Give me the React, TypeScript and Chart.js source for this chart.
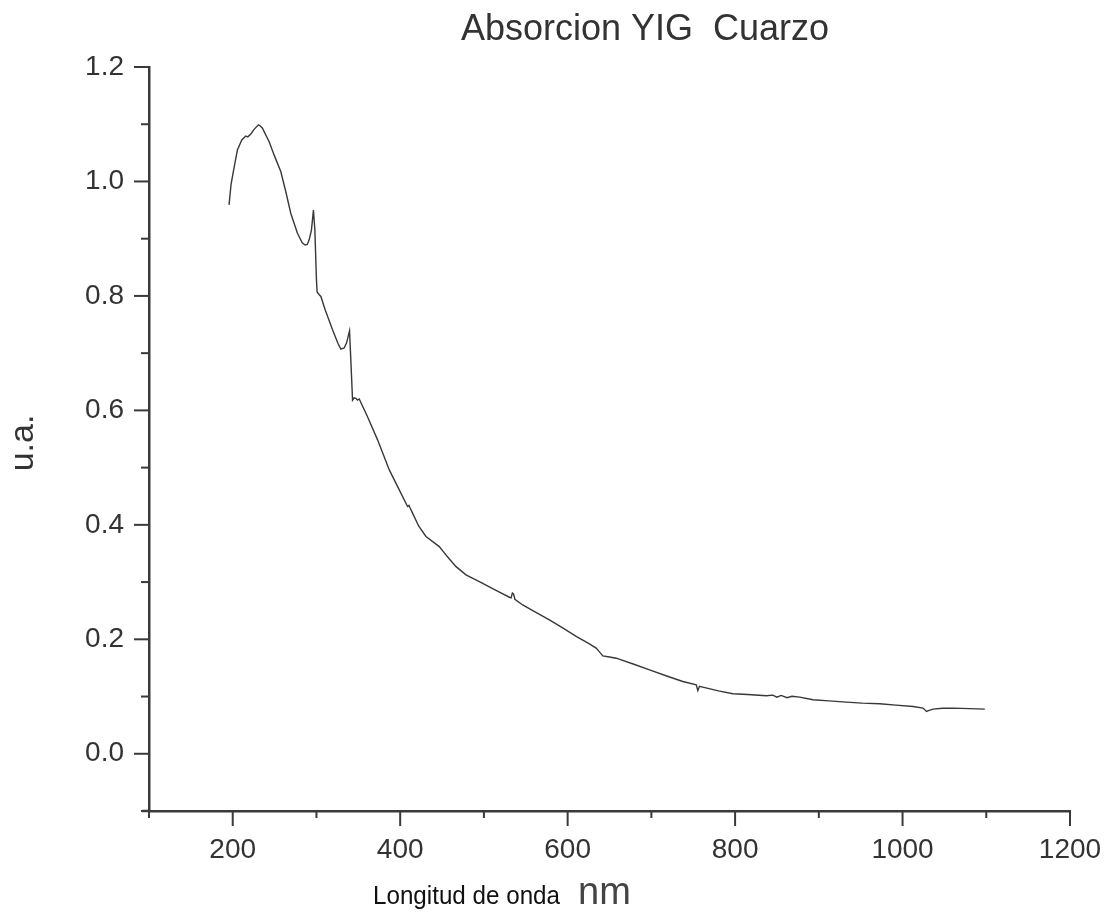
import React, { useEffect, useRef } from "react";
import { Chart, registerables } from "chart.js";

Chart.register(...registerables);

const TITLE = "Absorcion YIG  Cuarzo";
const Y_TITLE = "u.a.";
const X_TITLE_MAIN = "Longitud de onda";
const X_TITLE_UNIT = "nm";

const X_MIN = 100;
const X_MAX = 1200;
const Y_MIN = -0.1;
const Y_MAX = 1.2;

const wavelength: number[] = [
  195.6, 198, 201.6, 205.6, 210.8, 215.6, 218, 221.6, 225.5, 230.7, 233, 235.5,
  243.5, 249.5, 257.5, 263.4, 269.4, 277.3, 283, 286.5, 289, 291.3, 294, 296.4,
  298.1, 300.0, 300.8, 303.3, 305.3, 310.4, 319.2, 326, 329.2, 333.1, 336, 339.5,
  341.2, 343.1, 345, 347.1, 349, 351.1, 361.0, 373.0, 387.0, 398.9, 408.8, 410.5,
  411.7, 414.8, 422, 430.8, 446.7, 456, 466.7, 478.6, 494.5, 518.5, 530.5, 532.5,
  534, 535.5, 537, 546.3, 560, 578.2, 595, 610.2, 625, 634.1, 638, 642.0,
  650, 658.0, 680, 697.8, 720, 737.6, 753.6, 755.5, 757.5, 761.5, 780, 797.4,
  815, 837.3, 845, 850, 855, 862, 868, 877.1, 893.0, 912, 932.9, 952,
  972.8, 992, 1012.6, 1024.5, 1028.6, 1031, 1036.4, 1048, 1060.3, 1080, 1098.3,
];

const absorbance: number[] = [
  0.959, 0.995, 1.024, 1.055, 1.0725, 1.0795, 1.078, 1.083, 1.091, 1.099, 1.097, 1.093,
  1.0695, 1.046, 1.017, 0.982, 0.944, 0.9095, 0.893, 0.889, 0.89, 0.898, 0.915, 0.95,
  0.915, 0.828, 0.807, 0.802, 0.799, 0.776, 0.741, 0.716, 0.707, 0.709, 0.718, 0.739,
  0.683, 0.618, 0.622, 0.621, 0.618, 0.62, 0.589, 0.5485, 0.496, 0.461, 0.432, 0.434,
  0.43, 0.4204, 0.398, 0.3796, 0.362, 0.345, 0.327, 0.3127, 0.301, 0.2825, 0.2735, 0.2725,
  0.281, 0.279, 0.27, 0.26, 0.249, 0.234, 0.219, 0.205, 0.193, 0.1846, 0.178, 0.171,
  0.169, 0.167, 0.156, 0.1467, 0.135, 0.1263, 0.1205, 0.1106, 0.118, 0.1165, 0.11, 0.1048,
  0.1035, 0.1013, 0.1025, 0.099, 0.102, 0.098, 0.1005, 0.099, 0.0943, 0.0925, 0.0903, 0.0885,
  0.0873, 0.085, 0.0826, 0.0798, 0.0739, 0.0755, 0.078, 0.0795, 0.0798, 0.0788, 0.078,
];

const X_TICK_STEP = 100;
const X_LABEL_STEP = 200;
const Y_TICK_STEP = 0.1;

const FONT = "'Liberation Sans', Arial, sans-serif";
const TEXT_COLOR = "#333333";
const AXIS_COLOR = "#3a3a3a";

const decorPlugin = {
  id: "decor",
  afterDraw(chart: any) {
    const ctx = chart.ctx;
    const area = chart.chartArea;
    const xs = chart.scales.x;
    const ys = chart.scales.y;
    ctx.save();
    ctx.strokeStyle = AXIS_COLOR;
    ctx.lineWidth = 2;
    xs.ticks.forEach((t: any) => {
      const px = xs.getPixelForValue(t.value);
      const major = Math.round(t.value) % X_LABEL_STEP === 0;
      ctx.beginPath();
      ctx.moveTo(px, area.bottom);
      ctx.lineTo(px, area.bottom + (major ? 15 : 7));
      ctx.stroke();
    });
    ys.ticks.forEach((t: any) => {
      const py = ys.getPixelForValue(t.value);
      const major = Math.round(t.value * 10) % 2 === 0;
      ctx.beginPath();
      ctx.moveTo(area.left, py);
      ctx.lineTo(area.left - (major ? 15 : 8), py);
      ctx.stroke();
    });
    ctx.lineWidth = 2.5;
    ctx.beginPath();
    ctx.moveTo(area.left - 7, area.bottom);
    ctx.lineTo(area.left, area.bottom);
    ctx.stroke();

    ctx.fillStyle = TEXT_COLOR;
    ctx.font = `36px ${FONT}`;
    ctx.textAlign = "center";
    ctx.textBaseline = "alphabetic";
    ctx.fillText(TITLE, area.left + 496, 40);

    ctx.textAlign = "left";
    ctx.font = `26px ${FONT}`;
    ctx.fillStyle = "#111111";
    ctx.fillText(X_TITLE_MAIN, 373, 904, 187);
    ctx.font = `38px ${FONT}`;
    ctx.fillStyle = "#444444";
    ctx.fillText(X_TITLE_UNIT, 578, 904);

    ctx.save();
    ctx.translate(33, 443);
    ctx.rotate(-Math.PI / 2);
    ctx.textAlign = "center";
    ctx.font = `34px ${FONT}`;
    ctx.fillStyle = TEXT_COLOR;
    ctx.fillText(Y_TITLE, 0, 0);
    ctx.restore();
    ctx.restore();
  },
};

export default function App() {
  const ref = useRef<HTMLCanvasElement | null>(null);

  useEffect(() => {
    document.body.style.margin = "0";
    if (!ref.current) return;
    const points = wavelength.map((w, i) => ({ x: w, y: absorbance[i] }));
    const chart = new Chart(ref.current, {
      type: "line",
      data: {
        datasets: [
          {
            data: points,
            borderColor: "#383838",
            borderWidth: 1.4,
            pointRadius: 0,
            tension: 0,
            fill: false,
          },
        ],
      },
      options: {
        animation: false,
        responsive: false,
        layout: { padding: { top: 67, right: 39, left: 0, bottom: 0 } },
        plugins: {
          legend: { display: false },
          title: { display: false },
          tooltip: { enabled: false },
        },
        scales: {
          x: {
            type: "linear",
            min: X_MIN,
            max: X_MAX,
            afterFit: (s: any) => {
              s.height = 111;
              s.paddingLeft = 0;
              s.paddingRight = 0;
            },
            grid: { display: true, drawOnChartArea: false, drawTicks: false },
            border: { display: true, color: AXIS_COLOR, width: 2.5 },
            ticks: {
              stepSize: X_TICK_STEP,
              autoSkip: false,
              maxRotation: 0,
              padding: 22,
              color: TEXT_COLOR,
              font: { family: FONT, size: 28 },
              callback: (v: any) => {
                const n = Math.round(Number(v));
                return n % X_LABEL_STEP === 0 ? String(n) : "";
              },
            },
          },
          y: {
            type: "linear",
            min: Y_MIN,
            max: Y_MAX,
            afterFit: (s: any) => {
              s.width = 149;
              s.paddingTop = 0;
              s.paddingBottom = 0;
            },
            grid: { display: true, drawOnChartArea: false, drawTicks: false },
            border: { display: true, color: AXIS_COLOR, width: 2.5 },
            ticks: {
              stepSize: Y_TICK_STEP,
              autoSkip: false,
              padding: 25,
              color: TEXT_COLOR,
              font: { family: FONT, size: 28 },
              callback: (v: any) => {
                const k = Math.round(Number(v) * 10);
                if (k < 0 || k % 2 !== 0) return "";
                return (k / 10).toFixed(1);
              },
            },
          },
        },
      },
      plugins: [decorPlugin],
    });
    return () => chart.destroy();
  }, []);

  return (
    <div style={{ position: "absolute", left: 0, top: 0, width: 1109, height: 922, background: "#fff" }}>
      <canvas ref={ref} width={1109} height={922} />
    </div>
  );
}
